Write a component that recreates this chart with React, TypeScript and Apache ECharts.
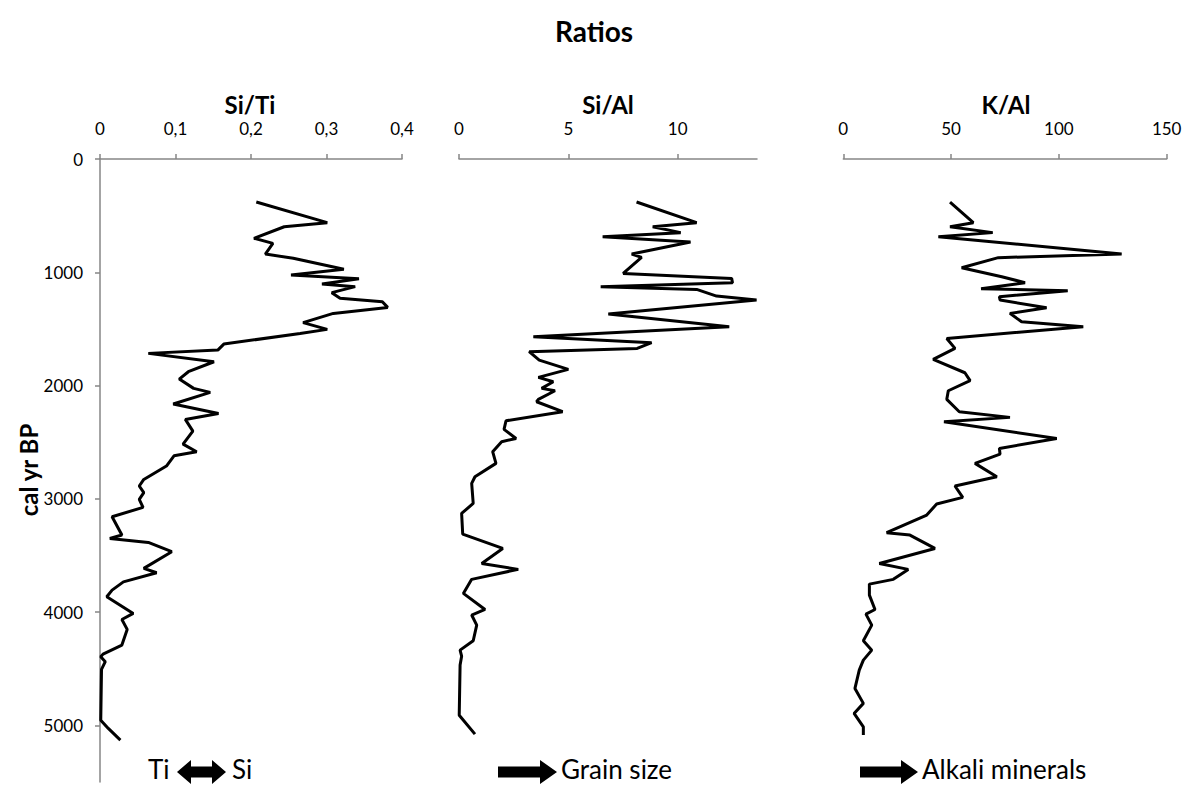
import { useEffect, useRef } from 'react';
import * as echarts from 'echarts';

const FONT = 'Lato, "Open Sans", "Noto Sans", sans-serif';

// Si/Ti
const siTiDepth = [380,562,598,700,745,839,877,974,1024,1057,1104,1127,1180,1230,1260,1310,1363,1445,1504,1540,1634,1687,1716,1790,1878,1943,2025,2060,2163,2246,2299,2402,2517,2584,2620,2711,2829,2887,2946,3005,3076,3158,3320,3350,3385,3467,3614,3653,3733,3806,3865,4012,4065,4153,4291,4371,4394,4438,4506,4954,5027,5130];
const siTiValues = [0.207,0.301,0.244,0.204,0.229,0.219,0.256,0.323,0.253,0.343,0.294,0.338,0.307,0.318,0.374,0.381,0.309,0.269,0.301,0.265,0.164,0.156,0.064,0.151,0.117,0.105,0.124,0.146,0.097,0.157,0.113,0.123,0.110,0.128,0.098,0.088,0.058,0.052,0.058,0.052,0.057,0.016,0.029,0.013,0.064,0.095,0.058,0.075,0.031,0.016,0.009,0.044,0.029,0.036,0.029,0.004,0.001,0.007,0.002,0.001,0.011,0.027];

// Si/Al
const siAlDepth = [380,562,598,650,686,733,839,868,1010,1054,1092,1127,1151,1210,1245,1369,1481,1569,1622,1672,1701,1775,1857,1928,1966,2025,2046,2122,2143,2231,2311,2387,2467,2496,2584,2687,2805,2864,3041,3129,3311,3438,3571,3623,3711,3835,3977,4026,4115,4253,4336,4389,4468,4910,5077];
const siAlValues = [8.12,10.87,8.86,10.14,6.57,10.59,7.90,8.35,7.51,12.47,12.51,6.48,10.87,11.78,13.61,6.83,12.36,3.40,8.81,8.15,3.21,3.67,5.00,3.63,4.31,3.78,4.39,3.63,3.55,4.74,2.15,2.06,2.61,1.95,1.54,1.69,0.73,0.58,0.65,0.12,0.17,2.00,1.04,2.71,0.58,0.20,1.19,0.58,0.81,0.65,0.05,0.12,0.05,0.01,0.73];

// K/Al
const kAlDepth = [380,562,598,650,686,839,871,960,1039,1092,1145,1163,1216,1245,1313,1363,1437,1481,1584,1672,1769,1887,1957,2046,2122,2231,2281,2320,2467,2555,2605,2687,2805,2887,2987,3046,3143,3299,3320,3438,3571,3623,3711,3753,3850,3977,4018,4115,4253,4336,4424,4512,4674,4806,4895,5013,5086];
const kAlValues = [49.5,60.3,49.5,69.3,44.1,129.1,71.9,54.9,73.5,84.3,63.9,104.1,72.4,72.7,94.3,77.3,82.7,111.3,48.0,51.8,41.7,56.4,58.8,48.7,48.0,53.8,77.3,46.7,99.0,72.4,72.7,61.1,71.2,51.8,55.4,43.3,38.7,20.1,30.9,42.5,16.7,30.1,23.2,12.1,12.1,14.7,10.5,13.2,9.3,13.2,9.3,7.4,5.4,9.3,5.0,9.3,9.3];

const depthTicks = [0, 1000, 2000, 3000, 4000, 5000];
const siTiTicks = [0, 0.1, 0.2, 0.3, 0.4];
const siAlTicks = [0, 5, 10];
const kAlTicks = [0, 50, 100, 150];

const panelTitles = ['Si/Ti', 'Si/Al', 'K/Al'];
const mainTitle = 'Ratios';
const yAxisTitle = 'cal yr BP';

const AXIS_COLOR = '#868686';
const TICK_FONT = 17;

function pairs(vals: number[], depths: number[]) {
  return vals.map((v, i) => [v, depths[i]]);
}

function xAxisCfg(gridIndex: number, max: number, ticks: number[], comma: boolean) {
  return {
    type: 'value',
    gridIndex,
    position: 'top',
    min: 0,
    max,
    axisLine: { show: true, onZero: false, lineStyle: { color: AXIS_COLOR, width: 1.5 } },
    axisTick: { show: true, length: 5, customValues: ticks, lineStyle: { color: AXIS_COLOR, width: 1.5 } },
    axisLabel: {
      customValues: ticks,
      color: '#000',
      fontSize: TICK_FONT,
      fontFamily: FONT,
      margin: 22,
      formatter: (v: number) => (comma ? String(v).replace('.', ',') : String(v)),
    },
    splitLine: { show: false },
  };
}

function yAxisCfg(gridIndex: number, show: boolean) {
  return {
    type: 'value',
    gridIndex,
    inverse: true,
    min: 0,
    max: 5500,
    show,
    axisLine: { show: true, onZero: false, lineStyle: { color: AXIS_COLOR, width: 1.5 } },
    axisTick: { show: true, length: 5, customValues: depthTicks, lineStyle: { color: AXIS_COLOR, width: 1.5 } },
    axisLabel: {
      customValues: depthTicks,
      color: '#000',
      fontSize: TICK_FONT,
      fontFamily: FONT,
      margin: 17,
      formatter: (v: number) => String(v),
    },
    splitLine: { show: false },
  };
}

function text(t: string, x: number, y: number, size: number, bold: boolean, align = 'center', rotation = 0) {
  return {
    type: 'text',
    x,
    y,
    rotation,
    style: {
      text: t,
      fill: '#000',
      font: `${bold ? 'bold ' : ''}${size}px ${FONT}`,
      align,
      textAlign: align,
      verticalAlign: 'middle',
      textVerticalAlign: 'middle',
    },
  };
}

function rightArrow(x0: number, x1: number, yc: number) {
  const headW = 17, headH = 12, shaftH = 5.5;
  return {
    type: 'polygon',
    shape: {
      points: [
        [x0, yc - shaftH], [x1 - headW, yc - shaftH], [x1 - headW, yc - headH], [x1, yc],
        [x1 - headW, yc + headH], [x1 - headW, yc + shaftH], [x0, yc + shaftH],
      ],
    },
    style: { fill: '#000' },
  };
}

function doubleArrow(x0: number, x1: number, yc: number) {
  const headW = 14, headH = 12, shaftH = 5.5;
  return {
    type: 'polygon',
    shape: {
      points: [
        [x0, yc], [x0 + headW, yc - headH], [x0 + headW, yc - shaftH], [x1 - headW, yc - shaftH],
        [x1 - headW, yc - headH], [x1, yc], [x1 - headW, yc + headH], [x1 - headW, yc + shaftH],
        [x0 + headW, yc + shaftH], [x0 + headW, yc + headH],
      ],
    },
    style: { fill: '#000' },
  };
}

export default function App() {
  const ref = useRef<HTMLDivElement>(null);
  useEffect(() => {
    const chart = echarts.init(ref.current!, null, { renderer: 'svg' });
    const lineSeries = (idx: number, data: number[][]) => ({
      type: 'line',
      xAxisIndex: idx,
      yAxisIndex: idx,
      data,
      symbol: 'none',
      lineStyle: { color: '#000', width: 3 },
      silent: true,
    });
    chart.setOption({
      animation: false,
      backgroundColor: '#fff',
      grid: [
        { left: 100, top: 159, width: 302, height: 623 },
        { left: 459, top: 159, width: 298, height: 623 },
        { left: 843.3, top: 159, width: 323.4, height: 623 },
      ],
      xAxis: [
        xAxisCfg(0, 0.4, siTiTicks, true),
        xAxisCfg(1, 13.63, siAlTicks, false),
        xAxisCfg(2, 150, kAlTicks, false),
      ],
      yAxis: [yAxisCfg(0, true), yAxisCfg(1, false), yAxisCfg(2, false)],
      series: [
        lineSeries(0, pairs(siTiValues, siTiDepth)),
        lineSeries(1, pairs(siAlValues, siAlDepth)),
        lineSeries(2, pairs(kAlValues, kAlDepth)),
      ],
      graphic: [
        text(mainTitle, 594, 31, 28, true),
        text(panelTitles[0], 250, 104, 24, true),
        text(panelTitles[1], 608, 104, 24, true),
        text(panelTitles[2], 1006, 104, 24, true),
        text(yAxisTitle, 28, 470, 24, true, 'center', Math.PI / 2),
        text('Ti', 148, 769, 26, false, 'left'),
        doubleArrow(177, 226, 772),
        text('Si', 232, 769, 26, false, 'left'),
        rightArrow(498, 557, 772),
        text('Grain size', 561, 769, 26, false, 'left'),
        rightArrow(860, 918, 772),
        text('Alkali minerals', 922, 769, 26, false, 'left'),
      ],
    });
    return () => chart.dispose();
  }, []);
  return (
    <div
      ref={ref}
      style={{ position: 'fixed', left: 0, top: 0, width: 1189, height: 785, background: '#fff' }}
    />
  );
}
